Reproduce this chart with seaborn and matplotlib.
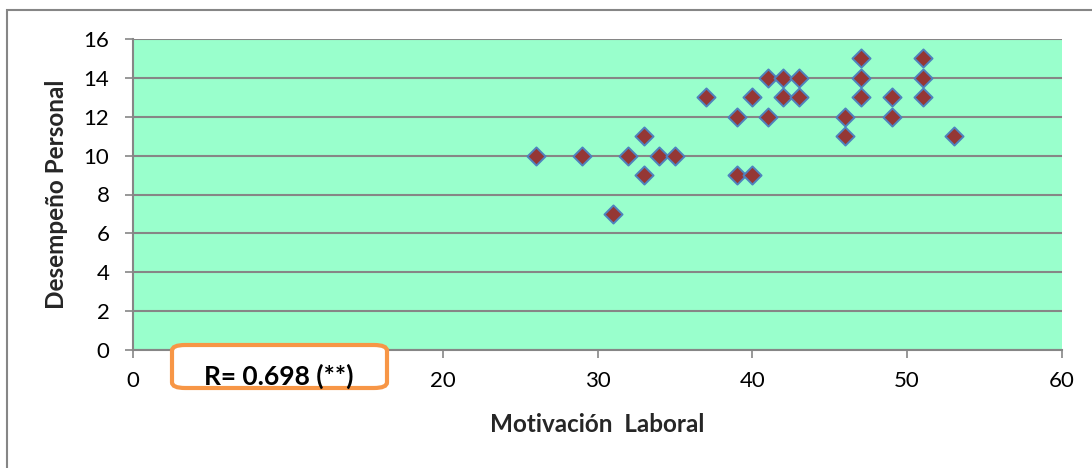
import matplotlib
matplotlib.use("Agg")
import matplotlib.pyplot as plt
from matplotlib.patches import FancyBboxPatch, Rectangle
import seaborn as sns
import pandas as pd

motivacion = [26, 29, 31, 32, 33, 33, 34, 35, 37, 39, 39, 40, 40, 41, 41,
              42, 42, 43, 43, 46, 46, 47, 47, 47, 49, 49, 51, 51, 51, 53]
desempeno = [10, 10, 7, 10, 11, 9, 10, 10, 13, 12, 9, 13, 9, 14, 12,
             14, 13, 14, 13, 12, 11, 15, 14, 13, 13, 12, 15, 14, 13, 11]
x_ticks = [0, 10, 20, 30, 40, 50, 60]
y_ticks = [0, 2, 4, 6, 8, 10, 12, 14, 16]
x_label = "Motivación  Laboral"
y_label = "Desempeño Personal"
r_text = "R= 0.698 (**)"

sns.set_theme(style="white")
plt.rcParams['font.family'] = ['Lato', 'DejaVu Sans']

W, H = 1092, 468
fig = plt.figure(figsize=(W / 100, H / 100), dpi=100)
fig.patch.set_facecolor("white")

def fx(px):
    return px / W

def fy(py):
    return 1 - py / H

ax = fig.add_axes([fx(133), fy(350), fx(1062) - fx(133), fy(39) - fy(350)])
ax.set_facecolor("#99FFCC")

df = pd.DataFrame({"x": motivacion, "y": desempeno})
sns.scatterplot(data=df, x="x", y="y", ax=ax, marker="D", s=85,
                color="#953735", edgecolor="#4F81BD", linewidth=1.4, zorder=3)

ax.set_xlim(0, 60)
ax.set_ylim(0, 16)
ax.set_xticks(x_ticks)
ax.set_yticks(y_ticks)
ax.yaxis.grid(True, color="#868686", linewidth=1.5)
ax.xaxis.grid(False)
ax.set_axisbelow(True)

for s in ["right", "top"]:
    ax.spines[s].set_visible(False)
for s in ["left", "bottom"]:
    ax.spines[s].set_color("#868686")
    ax.spines[s].set_linewidth(1.5)

ax.tick_params(axis="both", which="both", direction="out", length=6.0,
               width=1.2, color="#868686", labelsize=16, labelcolor="black",
               left=True, bottom=True)
ax.tick_params(axis="x", pad=9)
ax.tick_params(axis="y", pad=11)

ax.set_xlabel(x_label, fontsize=17.5, fontweight="bold")
ax.set_ylabel(y_label, fontsize=17.5, fontweight="bold")
ax.xaxis.set_label_coords(0.5, (350 - 425) / 311)
ax.xaxis.label.set_verticalalignment("center")
ax.yaxis.set_label_coords((57 - 133) / 929, 0.5)
ax.yaxis.label.set_verticalalignment("center")

# outer chart border
fig.patches.append(Rectangle((fx(7), fy(470)), fx(1100) - fx(7), fy(10) - fy(470),
                             transform=fig.transFigure, fill=False,
                             edgecolor="#868686", linewidth=1.5))

# annotation box
box = FancyBboxPatch((fx(172), fy(388)), fx(387) - fx(172), fy(345) - fy(388),
                     boxstyle="round,pad=0,rounding_size=0.012",
                     transform=fig.transFigure, facecolor="white",
                     edgecolor="#F79646", linewidth=3, zorder=5)
fig.patches.append(box)
fig.text(fx(279), fy(376), r_text, ha="center", va="center",
         fontsize=19, fontweight="bold", color="black", zorder=6)

fig.savefig("out.png", dpi=100)
